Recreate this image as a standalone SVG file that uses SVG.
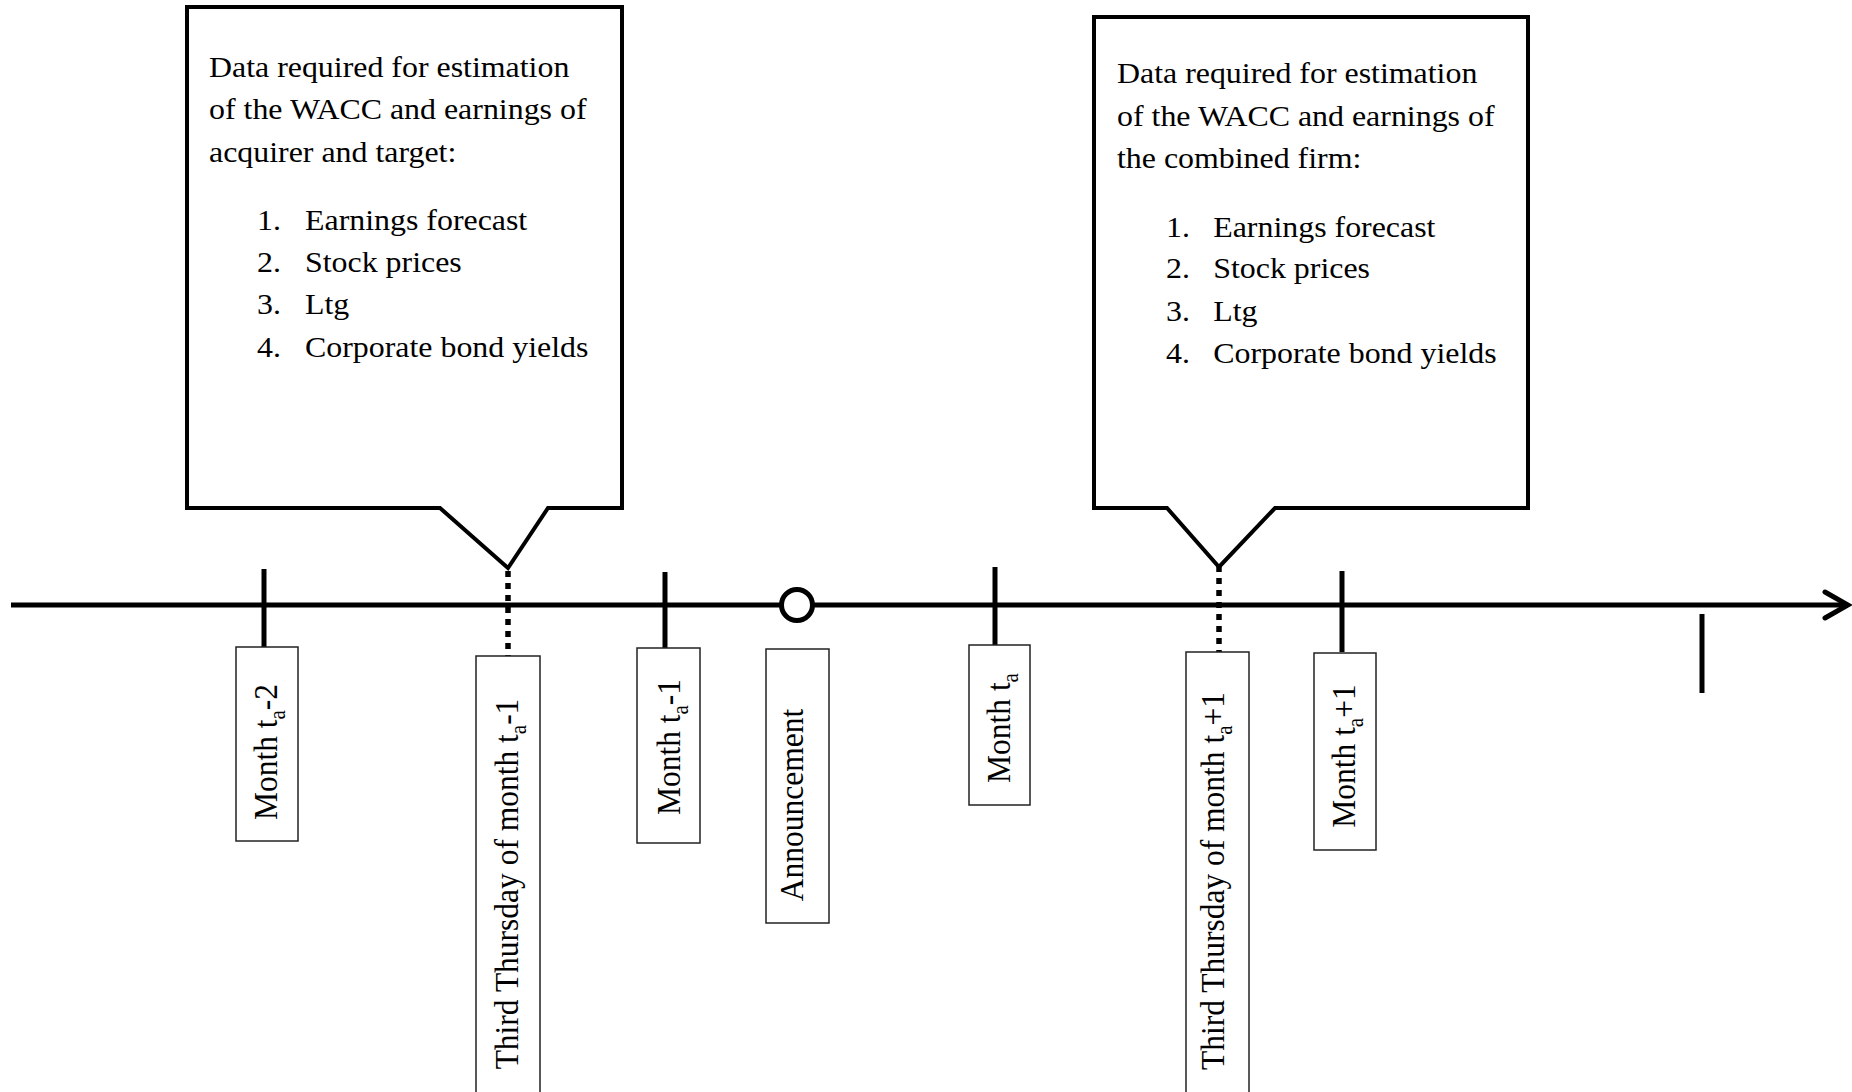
<svg xmlns="http://www.w3.org/2000/svg" width="1852" height="1092" viewBox="0 0 1852 1092">
<style>
  .callout { fill: #fff; stroke: #000; stroke-width: 4; stroke-linejoin: miter; }
  .label { fill: #fff; stroke: #222; stroke-width: 1.5; }
  .ct { font-family: "Liberation Serif", "Times New Roman", serif; font-size: 29px; fill: #000; }
  .rt { font-family: "Liberation Serif", "Times New Roman", serif; font-size: 31.5px; fill: #000; text-anchor: middle; }
  .sub { font-size: 21px; }
  .axis { stroke: #000; stroke-width: 5; fill: none; }
  .tick { stroke: #000; stroke-width: 5; }
  .dot { stroke: #000; stroke-width: 5.5; stroke-dasharray: 6 6; }
</style>
<rect width="1852" height="1092" fill="#fff"/>

<g id="connectors">
  <line class="axis" x1="11" y1="605" x2="1846" y2="605"/>
  <polyline class="axis" points="1825,592 1848,605 1825,618" stroke-width="5.5" stroke-linecap="round" stroke-linejoin="miter"/>
  <line class="tick" x1="264" y1="569" x2="264" y2="647"/>
  <line class="tick" x1="665" y1="572" x2="665" y2="648"/>
  <line class="tick" x1="995" y1="567" x2="995" y2="645"/>
  <line class="tick" x1="1342" y1="571" x2="1342" y2="652"/>
  <line class="tick" x1="1702" y1="614" x2="1702" y2="693"/>
  <line class="dot" x1="508" y1="571" x2="508" y2="656"/>
  <line class="dot" x1="1219" y1="566" x2="1219" y2="652"/>
</g>

<g id="callout-pre">
  <path class="callout" d="M187,7 H622 V508 H548 L508,568 L440,508 H187 Z"/>
  <g transform="translate(209,0) scale(1.1,1)">
    <text class="ct" x="0" y="77">Data required for estimation</text>
    <text class="ct" x="0" y="119">of the WACC and earnings of</text>
    <text class="ct" x="0" y="162">acquirer and target:</text>
    <text class="ct" x="43.6" y="230">1.</text><text class="ct" x="87.3" y="230">Earnings forecast</text>
    <text class="ct" x="43.6" y="272">2.</text><text class="ct" x="87.3" y="272">Stock prices</text>
    <text class="ct" x="43.6" y="314">3.</text><text class="ct" x="87.3" y="314">Ltg</text>
    <text class="ct" x="43.6" y="357">4.</text><text class="ct" x="87.3" y="357">Corporate bond yields</text>
  </g>
</g>

<g id="callout-post">
  <path class="callout" d="M1094,17 H1528 V508 H1275 L1219,567 L1167,508 H1094 Z"/>
  <g transform="translate(1117,0) scale(1.1,1)">
    <text class="ct" x="0" y="83">Data required for estimation</text>
    <text class="ct" x="0" y="126">of the WACC and earnings of</text>
    <text class="ct" x="0" y="168">the combined firm:</text>
    <text class="ct" x="44.5" y="237">1.</text><text class="ct" x="87.5" y="237">Earnings forecast</text>
    <text class="ct" x="44.5" y="278">2.</text><text class="ct" x="87.5" y="278">Stock prices</text>
    <text class="ct" x="44.5" y="321">3.</text><text class="ct" x="87.5" y="321">Ltg</text>
    <text class="ct" x="44.5" y="363">4.</text><text class="ct" x="87.5" y="363">Corporate bond yields</text>
  </g>
</g>

<g id="month-ta-2">
  <rect class="label" x="236" y="647" width="62" height="194"/>
  <text class="rt" transform="translate(277,752) scale(1.08,1) rotate(-90)">Month t<tspan class="sub" dy="7">a</tspan><tspan dy="-7">-2</tspan></text>
</g>

<g id="third-thursday-ta-1">
  <rect class="label" x="476" y="656" width="64" height="450"/>
  <text class="rt" transform="translate(518,884) scale(1.08,1) rotate(-90)">Third Thursday of month t<tspan class="sub" dy="7">a</tspan><tspan dy="-7">-1</tspan></text>
</g>

<g id="month-ta-1">
  <rect class="label" x="637" y="648" width="63" height="195"/>
  <text class="rt" transform="translate(680,747) scale(1.08,1) rotate(-90)">Month t<tspan class="sub" dy="7">a</tspan><tspan dy="-7">-1</tspan></text>
</g>

<g id="announcement">
  <circle cx="797" cy="605" r="15.5" fill="#fff" stroke="#000" stroke-width="5"/>
  <rect class="label" x="766" y="649" width="63" height="274"/>
  <text class="rt" transform="translate(803,805) scale(1.08,1) rotate(-90)">Announcement</text>
</g>

<g id="month-ta">
  <rect class="label" x="969" y="645" width="61" height="160"/>
  <text class="rt" transform="translate(1010,728) scale(1.08,1) rotate(-90)">Month t<tspan class="sub" dy="7">a</tspan></text>
</g>

<g id="third-thursday-ta+1">
  <rect class="label" x="1186" y="652" width="63" height="460"/>
  <text class="rt" transform="translate(1224,881) scale(1.08,1) rotate(-90)">Third Thursday of month t<tspan class="sub" dy="7">a</tspan><tspan dy="-7">+1</tspan></text>
</g>

<g id="month-ta+1">
  <rect class="label" x="1314" y="653" width="62" height="197"/>
  <text class="rt" transform="translate(1355,756) scale(1.08,1) rotate(-90)">Month t<tspan class="sub" dy="7">a</tspan><tspan dy="-7">+1</tspan></text>
</g>
</svg>
